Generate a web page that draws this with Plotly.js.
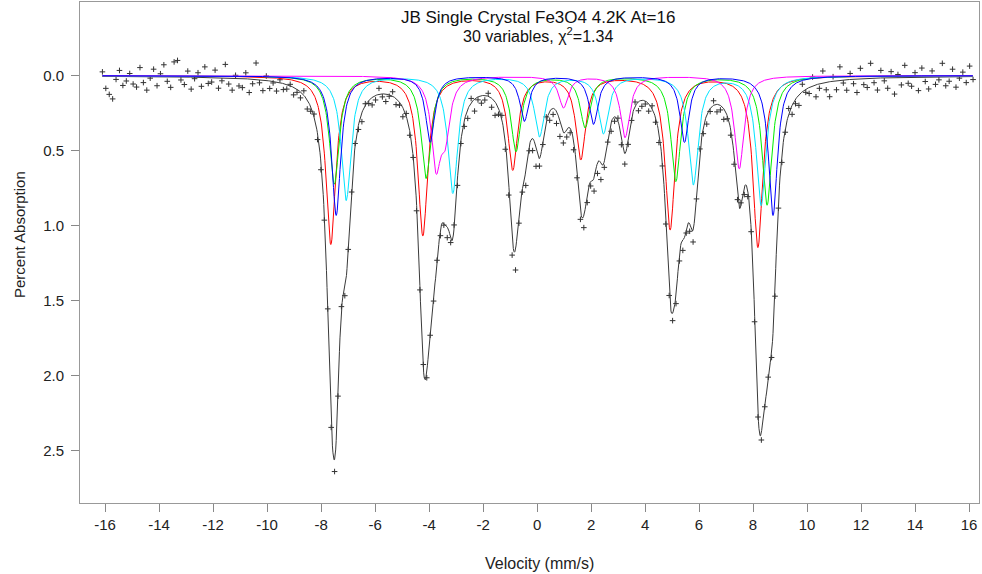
<!DOCTYPE html>
<html>
<head>
<meta charset="utf-8">
<script src="https://cdn.plot.ly/plotly-3.0.1.min.js"></script>
<style>html,body{margin:0;padding:0;background:#fff;}#chart{width:982px;height:574px;}</style>
</head>
<body>
<div id="chart"></div>
<script>
// ---- Data ----
// Velocity window of the 256 measured channels (mm/s)
const channelStart = -16.10;
const channelEnd = 16.15;
const channelCount = 256;

// Sextet components: line positions (mm/s), line depths (% absorption), Lorentzian FWHM (mm/s)
const redPos     = [-7.64, -4.23, -0.90, 1.62, 4.93, 8.18];
const redDepth   = [1.12, 1.06, 0.62, 0.55, 1.02, 1.14];
const redWidth   = 0.44;
const greenPos   = [-7.51, -4.11, -0.78, 1.78, 5.14, 8.52];
const greenDepth = [0.72, 0.68, 0.50, 0.34, 0.70, 0.86];
const greenWidth = 0.44;
const bluePos    = [-7.44, -3.96, -0.47, 2.09, 5.46, 8.74];
const blueDepth  = [0.93, 0.44, 0.30, 0.32, 0.44, 0.93];
const blueWidth  = 0.40;
const cyanPos    = [-7.07, -3.12, 0.09, 2.46, 5.79, 8.30];
const cyanDepth  = [0.83, 0.78, 0.40, 0.38, 0.72, 0.86];
const cyanWidth  = 0.44;
const magentaPos   = [-3.74, -3.40, 0.98, 3.26, 7.49];
const magentaDepth = [0.56, 0.34, 0.21, 0.41, 0.62];
const magentaWidth = 0.42;

// Measured points: deviation from the fitted envelope, in hundredths of a percent
const residuals = [
  -3, 8, 12, 15, 2, -4, 6, 3, -2, 5, 7, -6, 4, 9, 1, -5,
  6, -2, -8, 3, 7, -10, -11, 2, 5, -4, 8, 1, -3, 6, -7, 4,
  3, -5, 7, 2, -9, 4, 8, -2, 5, 6, -4, 9, 3, -11, 2, 7,
  -3, 5, 1, 6, -2, 4, 3, -1, 5, 2, 4, -3, 6, 3, -2, 4,
  5, 3, -2, 4, 8, 2, -3, 5, 1, 4, -2, 3, 6, -1, 2, 5,
  3, -4, 2, 5, 1, -3, 4, 2, 6, -2, 3, 1, 5, 2, -3, 4,
  2, 5, -3, 4, 1, 7, 3, -2, 5, 2, 4, 6, -3, 8, 2, 5,
  3, -2, 6, 9, 4, -3, 5, 8, 12, 14, 6, 2, 10, 3, 8, 12,
  5, 2, -3, 6, 4, 8, 10, 7, 5, 3, 6, 4, 6, 8, 5, 3,
  9, 7, 11, 4, 2, 6, 3, -2, 5, 7, 4, 2, -3, 6, 4, 2,
  5, -2, 3, 6, 2, 4, 3, 5, 6, 4, 7, 2, 5, 8, 3, -2,
  4, 6, 2, -3, 5, 3, 7, 2, 4, 6, 3, -2, 5, 4, 2, 6,
  3, 5, 2, -2, 4, 6, 3, 5, 2, -4, 6, 3, 7, -5, 2, 4,
  -6, 8, 3, -8, 5, 10, -3, 6, -9, 2, 7, -4, 3, 9, -7, 4,
  6, -10, 3, 8, -5, 2, 7, -4, 11, -2, 5, -8, 4, 6, -3, 9,
  -6, 3, 8, -4, 5, 2, -9, 6, 3, -5, 7, 1, -3, 4, -7, 2
];

// Tick labels
const xTickVals = [-16, -14, -12, -10, -8, -6, -4, -2, 0, 2, 4, 6, 8, 10, 12, 14, 16];
const xTickText = ['-16', '-14', '-12', '-10', '-8', '-6', '-4', '-2', '0', '2', '4', '6', '8', '10', '12', '14', '16'];
const yTickVals = [0, 0.5, 1.0, 1.5, 2.0, 2.5];
const yTickText = ['0.0', '0.5', '1.0', '1.5', '2.0', '2.5'];

const titleLine1 = 'JB Single Crystal Fe3O4 4.2K At=16';
const titleLine2 = '30 variables, \u03c7<sup>2</sup>=1.34';
const xTitle = 'Velocity (mm/s)';
const yTitle = 'Percent Absorption';

// ---- Model evaluation (Lorentzian sextets) ----
function sextet(v, pos, depth, fwhm) {
  const h = fwhm / 2;
  let s = 0;
  for (let k = 0; k < pos.length; k++) {
    const d = (v - pos[k]) / h;
    s += depth[k] / (1 + d * d);
  }
  return s;
}
const comps = [
  {pos: redPos, depth: redDepth, w: redWidth, color: '#ff0000'},
  {pos: greenPos, depth: greenDepth, w: greenWidth, color: '#00ee00'},
  {pos: cyanPos, depth: cyanDepth, w: cyanWidth, color: '#00e5ff'},
  {pos: magentaPos, depth: magentaDepth, w: magentaWidth, color: '#ff00ff'},
  {pos: bluePos, depth: blueDepth, w: blueWidth, color: '#0000ff'}
];
function total(v) {
  let s = 0;
  comps.forEach(c => { s += sextet(v, c.pos, c.depth, c.w); });
  return s;
}

const fine = [];
for (let v = channelStart; v <= channelEnd + 1e-9; v += 0.02) fine.push(+v.toFixed(4));

const chStep = (channelEnd - channelStart) / (channelCount - 1);
const chV = [], chY = [];
for (let i = 0; i < channelCount; i++) {
  const v = channelStart + i * chStep;
  chV.push(v);
  chY.push(total(v) + residuals[i] / 100);
}

const traces = [];
traces.push({x: chV, y: chY, type: 'scatter', mode: 'markers',
  marker: {symbol: 'cross-thin', size: 4, line: {width: 1, color: '#333'}, color: '#333'},
  hoverinfo: 'skip', showlegend: false});
traces.push({x: fine, y: fine.map(total), type: 'scatter', mode: 'lines',
  line: {color: '#3a3a3a', width: 1}, hoverinfo: 'skip', showlegend: false});
comps.forEach(c => {
  traces.push({x: fine, y: fine.map(v => sextet(v, c.pos, c.depth, c.w)), type: 'scatter', mode: 'lines',
    line: {color: c.color, width: 1}, hoverinfo: 'skip', showlegend: false});
});

const FONT = 'Liberation Sans, Arial, Helvetica, sans-serif';
const layout = {
  width: 982, height: 574,
  margin: {l: 80, r: 3, t: 2, b: 71},
  paper_bgcolor: '#fff', plot_bgcolor: '#fff',
  font: {family: FONT, size: 15, color: '#222'},
  title: {text: titleLine1, x: 0.548, xanchor: 'center', xref: 'container',
          y: 0.9704, yanchor: 'middle', yref: 'container', font: {family: FONT, size: 17, color: '#111'}},
  showlegend: false,
  annotations: [
    {text: titleLine2, xref: 'paper', yref: 'paper', x: 0.5095, y: 0.934, xanchor: 'center', yanchor: 'middle',
     showarrow: false, font: {family: FONT, size: 16, color: '#111'}},
    {text: yTitle, xref: 'paper', yref: 'paper', x: -0.0667, y: 0.535, xanchor: 'center', yanchor: 'middle',
     textangle: -90, showarrow: false, font: {family: FONT, size: 15, color: '#222'}},
    {text: xTitle, xref: 'paper', yref: 'paper', x: 0.511, y: -0.1198, xanchor: 'center', yanchor: 'middle',
     showarrow: false, font: {family: FONT, size: 16, color: '#222'}}
  ],
  xaxis: {range: [-16.93, 16.37], tickvals: xTickVals, ticktext: xTickText, ticks: 'outside', ticklen: 8, tickcolor: '#888',
          showline: true, linecolor: '#999', linewidth: 1, mirror: true, showgrid: false, zeroline: false,
          tickfont: {size: 15, color: '#222'}},
  yaxis: {range: [2.849, -0.491], tickvals: yTickVals, ticktext: yTickText, ticks: 'outside', ticklen: 8, tickcolor: '#888',
          ticklabelstandoff: 4,
          showline: true, linecolor: '#999', linewidth: 1, mirror: true, showgrid: false, zeroline: false,
          tickfont: {size: 15, color: '#222'}}
};
Plotly.newPlot('chart', traces, layout, {staticPlot: true, displayModeBar: false});
</script>
</body>
</html>
